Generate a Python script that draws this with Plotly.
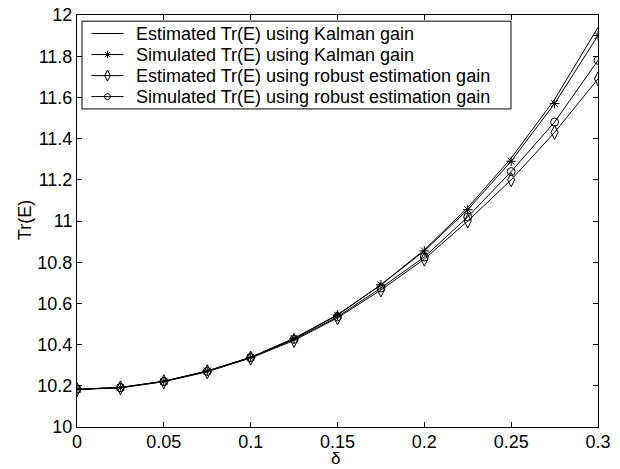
import plotly.graph_objects as go

delta = [0, 0.025, 0.05, 0.075, 0.1, 0.125, 0.15, 0.175, 0.2, 0.225, 0.25, 0.275, 0.3]
est_kalman = [10.183, 10.192, 10.222, 10.272, 10.338, 10.430, 10.545, 10.690, 10.860, 11.065, 11.305, 11.590, 11.940]
sim_kalman = [10.183, 10.192, 10.222, 10.272, 10.338, 10.430, 10.543, 10.690, 10.855, 11.055, 11.290, 11.570, 11.900]
est_robust = [10.182, 10.190, 10.220, 10.268, 10.335, 10.420, 10.530, 10.665, 10.815, 11.000, 11.200, 11.430, 11.690]
sim_robust = [10.183, 10.191, 10.221, 10.270, 10.337, 10.425, 10.535, 10.675, 10.825, 11.020, 11.240, 11.480, 11.780]

names = [
    "Estimated Tr(E) using Kalman gain",
    "Simulated Tr(E) using Kalman gain",
    "Estimated Tr(E) using robust estimation gain",
    "Simulated Tr(E) using robust estimation gain",
]
x_ticks = [0, 0.05, 0.1, 0.15, 0.2, 0.25, 0.3]
x_ticktext = ["0", "0.05", "0.1", "0.15", "0.2", "0.25", "0.3"]
y_ticks = [10, 10.2, 10.4, 10.6, 10.8, 11, 11.2, 11.4, 11.6, 11.8, 12]
y_ticktext = ["10", "10.2", "10.4", "10.6", "10.8", "11", "11.2", "11.4", "11.6", "11.8", "12"]

FONT = "Liberation Sans, Arial, Helvetica, sans-serif"

series = [est_kalman, sim_kalman, est_robust, sim_robust]
symbols = [None, "asterisk-open", "diamond-tall-open", "circle-open"]
sizes = [0, 8, 10, 8]
legend_sizes = [0, 6, 8, 6]

fig = go.Figure()
for name, ys, sym, sz in zip(names, series, symbols, sizes):
    if sym is None:
        fig.add_trace(go.Scatter(x=delta, y=ys, mode="lines", name=name, showlegend=False,
                                 line=dict(color="black", width=1)))
    else:
        fig.add_trace(go.Scatter(x=delta, y=ys, mode="lines+markers", name=name, showlegend=False,
                                 line=dict(color="black", width=1),
                                 marker=dict(symbol=sym, size=sz, color="black",
                                             line=dict(color="black", width=1))))

# ---- hand-built legend (box, sample lines, markers, labels) in paper space ----
box = dict(x0=0.0096, x1=0.833, y0=0.772, y1=0.985)
row_y = [0.955, 0.904, 0.853, 0.802]
line_x0, line_x1, mark_x, text_x = 0.0278, 0.0893, 0.0585, 0.1094

shapes = [dict(type="rect", xref="paper", yref="paper", layer="below",
               line=dict(color="black", width=1), fillcolor="white", **box)]
annotations = []
for i, (name, ry) in enumerate(zip(names, row_y)):
    shapes.append(dict(type="line", xref="paper", yref="paper", layer="below",
                       x0=line_x0, x1=line_x1, y0=ry, y1=ry,
                       line=dict(color="black", width=1)))
    annotations.append(dict(text=name, xref="paper", yref="paper", x=text_x, y=ry,
                            xanchor="left", yanchor="middle", showarrow=False,
                            font=dict(family=FONT, size=18, color="black")))
    if symbols[i] is not None:
        fig.add_trace(go.Scatter(x=[mark_x], y=[ry], xaxis="x2", yaxis="y2",
                                 mode="markers", showlegend=False, hoverinfo="skip",
                                 marker=dict(symbol=symbols[i], size=legend_sizes[i],
                                             color="black", line=dict(color="black", width=1))))

# axis titles
annotations.append(dict(text="Tr(E)", xref="paper", yref="paper", x=-0.0998, y=0.502,
                        textangle=-90, xanchor="center", yanchor="middle", showarrow=False,
                        font=dict(family=FONT, size=18, color="black")))
annotations.append(dict(text="δ", xref="paper", yref="paper", x=0.497, y=-0.0775,
                        xanchor="center", yanchor="middle", showarrow=False, borderpad=0,
                        font=dict(family=FONT, size=17, color="black")))

axis_common = dict(
    showline=True, linecolor="black", linewidth=1, mirror="ticks",
    ticks="inside", ticklen=5, tickcolor="black", tickwidth=1,
    showgrid=False, zeroline=False, automargin=False, ticklabeloverflow="allow",
    tickfont=dict(family=FONT, size=18, color="black"),
)

fig.update_layout(
    width=620, height=469,
    margin=dict(l=77, r=22, t=15, b=42),
    paper_bgcolor="white", plot_bgcolor="white",
    font=dict(family=FONT, size=18, color="black"),
    showlegend=False,
    shapes=shapes,
    annotations=annotations,
    xaxis=dict(range=[0, 0.3], tickvals=x_ticks, ticktext=x_ticktext,
               ticklabelstandoff=-2, **axis_common),
    yaxis=dict(range=[10, 12], tickvals=y_ticks, ticktext=y_ticktext, **axis_common),
    xaxis2=dict(overlaying="x", range=[0, 1], visible=False, fixedrange=True),
    yaxis2=dict(overlaying="y", range=[0, 1], visible=False, fixedrange=True),
)

# remove the page's default 8px body margin so the 620x469 figure fills the window
fig.write_html("out.html", config={"displayModeBar": False},
               post_script="document.body.style.margin='0';")
